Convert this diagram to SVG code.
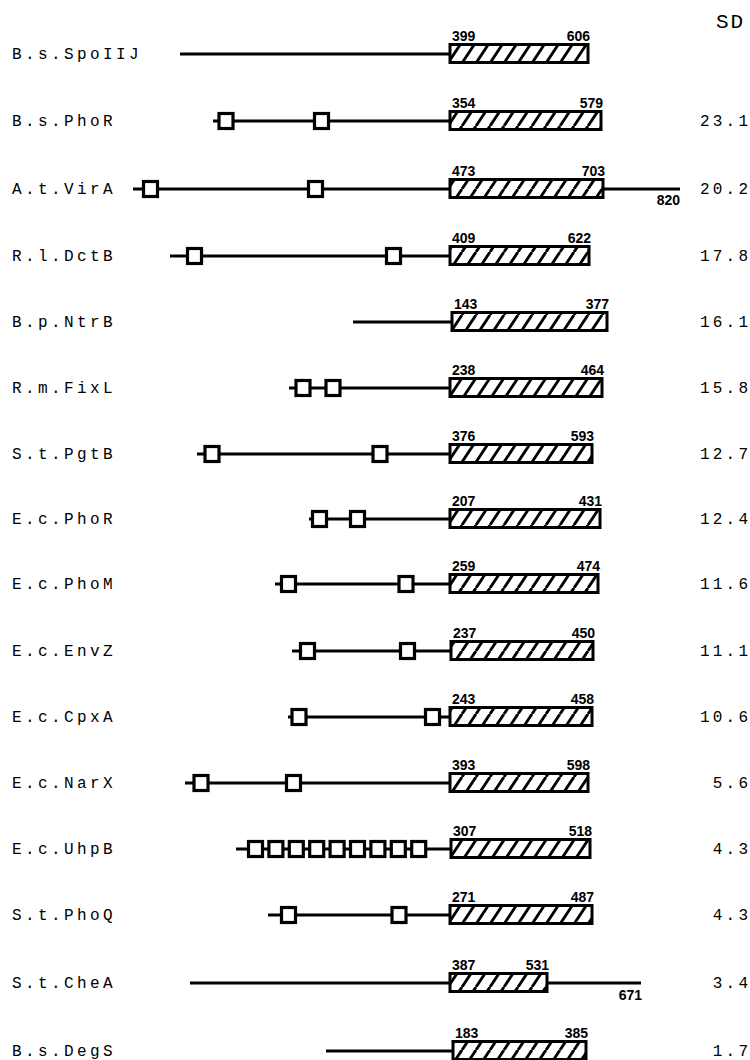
<svg xmlns="http://www.w3.org/2000/svg" width="750" height="1060" viewBox="0 0 750 1060">
<style>
.lbl{font-family:"Liberation Mono","DejaVu Sans Mono",monospace;font-size:16px;letter-spacing:3.4px;fill:#000}
.sd{font-family:"Liberation Mono","DejaVu Sans Mono",monospace;font-size:16px;letter-spacing:3.2px;fill:#000}
.hd{font-family:"Liberation Mono","DejaVu Sans Mono",monospace;font-size:21px;letter-spacing:2px;fill:#000}
.num{font-family:"Liberation Sans",Arial,sans-serif;font-weight:bold;font-size:14px;fill:#000}
.bb{stroke:#000;stroke-width:2.8;fill:none}
.tm{fill:#fff;stroke:#000;stroke-width:3.2}
.dom{fill:url(#hatch);stroke:#000;stroke-width:3}
</style>
<defs>
<pattern id="hatch" patternUnits="userSpaceOnUse" width="14" height="21">
<rect width="14" height="21" fill="#fff"/>
<path d="M0,21L14,0M-14,21L0,0M14,21L28,0" stroke="#000" stroke-width="2.9"/>
</pattern>
</defs>
<rect width="750" height="1060" fill="#fff"/>
<text class="hd" x="716" y="28">SD</text>

<g id="connectors">
<line class="bb" x1="180" y1="54" x2="450" y2="54"/>
<line class="bb" x1="213" y1="121" x2="450" y2="121"/>
<line class="bb" x1="133" y1="189" x2="680" y2="189"/>
<line class="bb" x1="170" y1="256" x2="450" y2="256"/>
<line class="bb" x1="353" y1="322" x2="452" y2="322"/>
<line class="bb" x1="289" y1="388" x2="450" y2="388"/>
<line class="bb" x1="197" y1="454" x2="450" y2="454"/>
<line class="bb" x1="309" y1="519" x2="450" y2="519"/>
<line class="bb" x1="275" y1="584" x2="450" y2="584"/>
<line class="bb" x1="292" y1="651" x2="450" y2="651"/>
<line class="bb" x1="288" y1="717" x2="450" y2="717"/>
<line class="bb" x1="185" y1="783" x2="450" y2="783"/>
<line class="bb" x1="236" y1="849" x2="450" y2="849"/>
<line class="bb" x1="268" y1="915" x2="450" y2="915"/>
<line class="bb" x1="190" y1="983" x2="641" y2="983"/>
<line class="bb" x1="326" y1="1051" x2="453" y2="1051"/>
</g>

<g id="row-BsSpoIIJ">
<text class="lbl" x="12" y="59">B.s.SpoIIJ</text>
<rect class="dom" x="450" y="44.5" width="138" height="18"/>
<text class="num" x="452" y="40.5">399</text>
<text class="num" x="590" y="40.5" text-anchor="end">606</text>
</g>

<g id="row-BsPhoR">
<text class="lbl" x="12" y="126">B.s.PhoR</text>
<rect class="tm" x="219" y="113.5" width="14" height="15"/>
<rect class="tm" x="314.5" y="113.5" width="14" height="15"/>
<rect class="dom" x="450" y="111.5" width="151" height="18"/>
<text class="num" x="452" y="107.5">354</text>
<text class="num" x="603" y="107.5" text-anchor="end">579</text>
<text class="sd" x="700" y="126">23.1</text>
</g>

<g id="row-AtVirA">
<text class="lbl" x="12" y="194">A.t.VirA</text>
<rect class="tm" x="143.5" y="181.5" width="14" height="15"/>
<rect class="tm" x="308.5" y="181.5" width="14" height="15"/>
<rect class="dom" x="450" y="179.5" width="153" height="18"/>
<text class="num" x="452" y="175.5">473</text>
<text class="num" x="605" y="175.5" text-anchor="end">703</text>
<text class="num" x="680" y="205" text-anchor="end">820</text>
<text class="sd" x="700" y="194">20.2</text>
</g>

<g id="row-RlDctB">
<text class="lbl" x="12" y="261">R.l.DctB</text>
<rect class="tm" x="187.5" y="248.5" width="14" height="15"/>
<rect class="tm" x="386.5" y="248.5" width="14" height="15"/>
<rect class="dom" x="450" y="246.5" width="139" height="18"/>
<text class="num" x="452" y="242.5">409</text>
<text class="num" x="591" y="242.5" text-anchor="end">622</text>
<text class="sd" x="700" y="261">17.8</text>
</g>

<g id="row-BpNtrB">
<text class="lbl" x="12" y="327">B.p.NtrB</text>
<rect class="dom" x="452" y="312.5" width="155" height="18"/>
<text class="num" x="454" y="308.5">143</text>
<text class="num" x="609" y="308.5" text-anchor="end">377</text>
<text class="sd" x="700" y="327">16.1</text>
</g>

<g id="row-RmFixL">
<text class="lbl" x="12" y="393">R.m.FixL</text>
<rect class="tm" x="296" y="380.5" width="14" height="15"/>
<rect class="tm" x="326" y="380.5" width="14" height="15"/>
<rect class="dom" x="450" y="378.5" width="152" height="18"/>
<text class="num" x="452" y="374.5">238</text>
<text class="num" x="604" y="374.5" text-anchor="end">464</text>
<text class="sd" x="700" y="393">15.8</text>
</g>

<g id="row-StPgtB">
<text class="lbl" x="12" y="459">S.t.PgtB</text>
<rect class="tm" x="205" y="446.5" width="14" height="15"/>
<rect class="tm" x="373" y="446.5" width="14" height="15"/>
<rect class="dom" x="450" y="444.5" width="142" height="18"/>
<text class="num" x="452" y="440.5">376</text>
<text class="num" x="594" y="440.5" text-anchor="end">593</text>
<text class="sd" x="700" y="459">12.7</text>
</g>

<g id="row-EcPhoR">
<text class="lbl" x="12" y="524">E.c.PhoR</text>
<rect class="tm" x="312.5" y="511.5" width="14" height="15"/>
<rect class="tm" x="350.5" y="511.5" width="14" height="15"/>
<rect class="dom" x="450" y="509.5" width="150" height="18"/>
<text class="num" x="452" y="505.5">207</text>
<text class="num" x="602" y="505.5" text-anchor="end">431</text>
<text class="sd" x="700" y="524">12.4</text>
</g>

<g id="row-EcPhoM">
<text class="lbl" x="12" y="589">E.c.PhoM</text>
<rect class="tm" x="281.5" y="576.5" width="14" height="15"/>
<rect class="tm" x="399" y="576.5" width="14" height="15"/>
<rect class="dom" x="450" y="574.5" width="148" height="18"/>
<text class="num" x="452" y="570.5">259</text>
<text class="num" x="600" y="570.5" text-anchor="end">474</text>
<text class="sd" x="700" y="589">11.6</text>
</g>

<g id="row-EcEnvZ">
<text class="lbl" x="12" y="656">E.c.EnvZ</text>
<rect class="tm" x="300.5" y="643.5" width="14" height="15"/>
<rect class="tm" x="400.5" y="643.5" width="14" height="15"/>
<rect class="dom" x="451" y="641.5" width="142" height="18"/>
<text class="num" x="453" y="637.5">237</text>
<text class="num" x="595" y="637.5" text-anchor="end">450</text>
<text class="sd" x="700" y="656">11.1</text>
</g>

<g id="row-EcCpxA">
<text class="lbl" x="12" y="722">E.c.CpxA</text>
<rect class="tm" x="292" y="709.5" width="14" height="15"/>
<rect class="tm" x="425.5" y="709.5" width="14" height="15"/>
<rect class="dom" x="450" y="707.5" width="142" height="18"/>
<text class="num" x="452" y="703.5">243</text>
<text class="num" x="594" y="703.5" text-anchor="end">458</text>
<text class="sd" x="700" y="722">10.6</text>
</g>

<g id="row-EcNarX">
<text class="lbl" x="12" y="788">E.c.NarX</text>
<rect class="tm" x="194" y="775.5" width="14" height="15"/>
<rect class="tm" x="286.5" y="775.5" width="14" height="15"/>
<rect class="dom" x="450" y="773.5" width="138" height="18"/>
<text class="num" x="452" y="769.5">393</text>
<text class="num" x="590" y="769.5" text-anchor="end">598</text>
<text class="sd" x="712.8" y="788">5.6</text>
</g>

<g id="row-EcUhpB">
<text class="lbl" x="12" y="854">E.c.UhpB</text>
<rect class="tm" x="248.5" y="841.5" width="14" height="15"/>
<rect class="tm" x="268.9" y="841.5" width="14" height="15"/>
<rect class="tm" x="289.3" y="841.5" width="14" height="15"/>
<rect class="tm" x="309.7" y="841.5" width="14" height="15"/>
<rect class="tm" x="330.1" y="841.5" width="14" height="15"/>
<rect class="tm" x="350.5" y="841.5" width="14" height="15"/>
<rect class="tm" x="370.9" y="841.5" width="14" height="15"/>
<rect class="tm" x="391.3" y="841.5" width="14" height="15"/>
<rect class="tm" x="411.7" y="841.5" width="14" height="15"/>
<rect class="dom" x="451" y="839.5" width="139" height="18"/>
<text class="num" x="453" y="835.5">307</text>
<text class="num" x="592" y="835.5" text-anchor="end">518</text>
<text class="sd" x="712.8" y="854">4.3</text>
</g>

<g id="row-StPhoQ">
<text class="lbl" x="12" y="920">S.t.PhoQ</text>
<rect class="tm" x="281.5" y="907.5" width="14" height="15"/>
<rect class="tm" x="392" y="907.5" width="14" height="15"/>
<rect class="dom" x="450" y="905.5" width="142" height="18"/>
<text class="num" x="452" y="901.5">271</text>
<text class="num" x="594" y="901.5" text-anchor="end">487</text>
<text class="sd" x="712.8" y="920">4.3</text>
</g>

<g id="row-StCheA">
<text class="lbl" x="12" y="988">S.t.CheA</text>
<rect class="dom" x="450" y="973.5" width="97" height="18"/>
<text class="num" x="452" y="969.5">387</text>
<text class="num" x="549" y="969.5" text-anchor="end">531</text>
<text class="num" x="642" y="1000" text-anchor="end">671</text>
<text class="sd" x="712.8" y="988">3.4</text>
</g>

<g id="row-BsDegS">
<text class="lbl" x="12" y="1056">B.s.DegS</text>
<rect class="dom" x="453" y="1041.5" width="133" height="18"/>
<text class="num" x="455" y="1037.5">183</text>
<text class="num" x="588" y="1037.5" text-anchor="end">385</text>
<text class="sd" x="712.8" y="1056">1.7</text>
</g>
</svg>
